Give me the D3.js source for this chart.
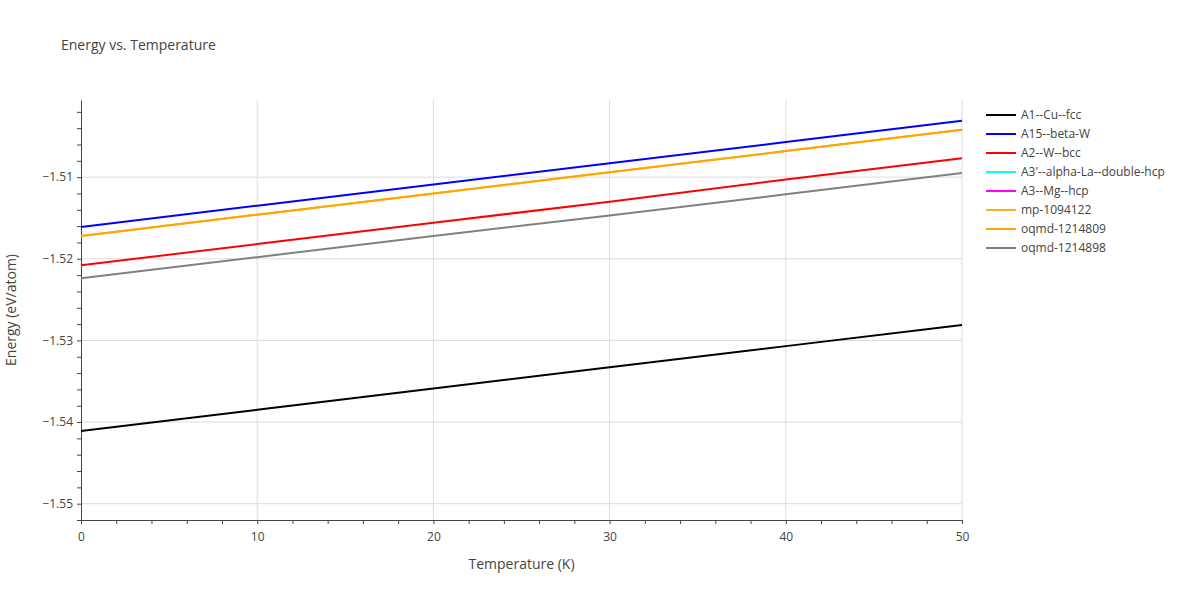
<!DOCTYPE html>
<html><head><meta charset="utf-8">
<script src="https://cdn.jsdelivr.net/npm/d3@7"></script>
<style>body{margin:0;background:#fff;font-family:"Open Sans",sans-serif;}</style>
</head><body><div id="chart"></div>
<script>
// temperatures (K)
const temps = [0, 10, 20, 30, 40, 50];
const seriesNames = ["A1--Cu--fcc", "A15--beta-W", "A2--W--bcc", "A3'--alpha-La--double-hcp",
  "A3--Mg--hcp", "mp-1094122", "oqmd-1214809", "oqmd-1214898"];
const seriesColors = ["#000000", "#0000ff", "#ff0000", "#00ffff", "#ff00ff", "#f5b324", "#ffa500", "#808080"];
const a1 = [-1.5411, -1.5385, -1.5359, -1.5333, -1.5307, -1.5281];
const a15 = [-1.5161, -1.5135, -1.5109, -1.5083, -1.5057, -1.5031];
const a2 = [-1.5208, -1.5182, -1.5156, -1.5130, -1.5103, -1.5077];
const a3p = [];
const a3 = [];
const mp = [-1.5172, -1.5146, -1.5120, -1.5094, -1.5068, -1.5042];
const oq809 = [-1.5172, -1.5146, -1.5120, -1.5094, -1.5068, -1.5042];
const oq898 = [-1.5224, -1.5198, -1.5172, -1.5147, -1.5121, -1.5095];
const seriesValues = [a1, a15, a2, a3p, a3, mp, oq809, oq898];
const yTicks = [-1.55, -1.54, -1.53, -1.52, -1.51];
const xTicks = [0, 10, 20, 30, 40, 50];

const w = 1200, h = 600;
const m = {left: 81, right: 238, top: 100, bottom: 80};
const svg = d3.select("#chart").append("svg").attr("width", w).attr("height", h);

const x = d3.scaleLinear().domain([0, 50]).range([m.left, w - m.right]);
const y = d3.scaleLinear().domain([-1.552, -1.50055]).range([h - m.bottom, m.top]);

// grid
svg.append("g").selectAll("line").data(xTicks.slice(1)).join("line")
  .attr("x1", d => x(d)).attr("x2", d => x(d)).attr("y1", m.top).attr("y2", h - m.bottom)
  .attr("stroke", "#dcdcdc");
svg.append("g").selectAll("line").data(yTicks).join("line")
  .attr("x1", m.left).attr("x2", w - m.right).attr("y1", d => y(d)).attr("y2", d => y(d))
  .attr("stroke", "#dcdcdc");

// axes
const xAxis = svg.append("g").attr("transform", "translate(0," + (h - m.bottom) + ")")
  .call(d3.axisBottom(x).tickValues(xTicks).tickSize(0).tickPadding(12).tickFormat(d3.format("d")));
xAxis.select(".domain").attr("stroke", "#444");
svg.append("g").attr("transform", "translate(0," + (h - m.bottom) + ")")
  .call(d3.axisBottom(x).tickValues(d3.range(0, 51, 2)).tickSize(4).tickFormat(""))
  .select(".domain").remove();
const yAxis = svg.append("g").attr("transform", "translate(" + m.left + ",0)")
  .call(d3.axisLeft(y).tickValues(yTicks).tickSize(0).tickPadding(8).tickFormat(d => "\u2212" + Math.abs(d).toFixed(2)));
yAxis.select(".domain").attr("stroke", "#444");
svg.append("g").attr("transform", "translate(" + m.left + ",0)")
  .call(d3.axisLeft(y).tickValues(d3.range(-1.552, -1.5005, 0.002)).tickSize(4).tickFormat(""))
  .select(".domain").remove();
svg.selectAll(".tick text").attr("fill", "#444").attr("font-size", 12).attr("font-family", "Open Sans, sans-serif");
svg.selectAll(".tick line").attr("stroke", "#444");

// lines
const line = d3.line().x((d, i) => x(temps[i])).y(d => y(d));
const order = [0, 1, 2, 3, 4, 5, 7, 6];
order.forEach(i => {
  if (!seriesValues[i].length) return;
  svg.append("path").attr("d", line(seriesValues[i])).attr("fill", "none")
    .attr("stroke", seriesColors[i]).attr("stroke-width", 2);
});

// legend
const lg = svg.append("g").attr("transform", "translate(986,115)");
seriesNames.forEach((n, i) => {
  const g = lg.append("g").attr("transform", "translate(0," + i * 19 + ")");
  g.append("line").attr("x1", 0).attr("x2", 30).attr("stroke", seriesColors[i]).attr("stroke-width", 2);
  g.append("text").attr("x", 35).attr("y", 4).text(n).attr("font-size", 12).attr("fill", "#444");
});

// titles
svg.append("text").attr("x", 61).attr("y", 50).text("Energy vs. Temperature").attr("font-size", 14).attr("fill", "#444");
svg.append("text").attr("x", (m.left + w - m.right) / 2).attr("y", 569).attr("text-anchor", "middle")
  .text("Temperature (K)").attr("font-size", 14).attr("fill", "#444");
svg.append("text").attr("transform", "translate(16," + ((m.top + h - m.bottom) / 2) + ") rotate(-90)")
  .attr("text-anchor", "middle").text("Energy (eV/atom)").attr("font-size", 14).attr("fill", "#444");
</script></body></html>
